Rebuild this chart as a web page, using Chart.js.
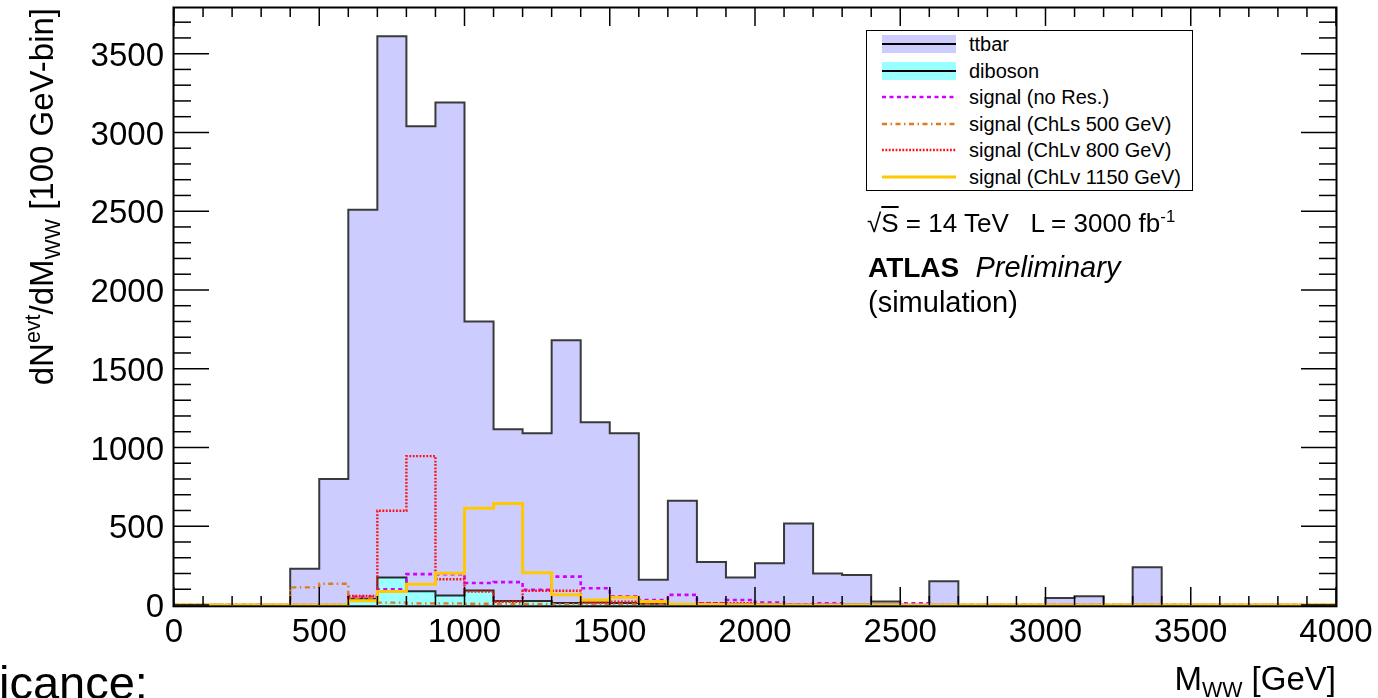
<!DOCTYPE html>
<html>
<head>
<meta charset="utf-8">
<script src="https://cdn.jsdelivr.net/npm/chart.js"></script>
<style>
html,body{margin:0;padding:0;background:#fff;overflow:hidden;}
#wrap{position:relative;width:1378px;height:698px;overflow:hidden;}
#c{position:absolute;left:0;top:0;}
.t{position:absolute;font-family:"Liberation Sans",Arial,sans-serif;color:#000;white-space:nowrap;line-height:1;}
.sub{font-size:65%;position:relative;top:0.32em;}
.sup{font-size:65%;position:relative;top:-0.6em;}
#leg{position:absolute;left:866px;top:30px;width:325px;height:159px;border:1.5px solid #000;background:#fff;}
</style>
</head>
<body>
<div id="wrap">
<canvas id="c" width="1378" height="698"></canvas>

<div class="t" id="ytitle" style="font-size:33px;left:25px;top:608px;width:600px;text-align:right;transform-origin:0 0;transform:rotate(-90deg);">dN<span class="sup">evt</span>/dM<span class="sub">WW</span> [100 GeV-bin]</div>
<div class="t" id="xtitle" style="font-size:33px;right:42px;top:662px;">M<span class="sub">WW</span> [GeV]</div>

<div id="leg"></div>

<div class="t" style="font-size:26px;left:867px;top:210px;">√<span style="text-decoration:overline;">S</span> = 14 TeV &nbsp; L = 3000 fb<span class="sup">-1</span></div>
<div class="t" style="font-size:29px;left:868px;top:253px;"><b style="font-size:28px;">ATLAS</b>&nbsp; <i>Preliminary</i></div>
<div class="t" style="font-size:29px;left:868px;top:288px;">(simulation)</div>

<div class="t" style="font-size:47px;left:-1px;top:659px;">icance:</div>
</div>

<script>
// ---------------- data ----------------
// lower bin edges in GeV (100 GeV bins) plus the final upper edge
const binEdges = [0,100,200,300,400,500,600,700,800,900,1000,1100,1200,1300,1400,1500,1600,1700,1800,1900,
                  2000,2100,2200,2300,2400,2500,2600,2700,2800,2900,3000,3100,3200,3300,3400,3500,3600,3700,3800,3900,4000];

const ttbar       = [0,0,0,0,230,800,2510,3610,3040,3190,1800,1115,1090,1680,1160,1090,160,662,273,175,
                     265,517,200,190,22,0,150,0,0,0,44,55,0,240,0,0,0,0,0,0];
const diboson     = [0,0,0,0,0,0,40,175,88,60,92,25,25,12,16,12,8,5,3,5,
                     3,2,2,1,1,0,0,0,0,0,0,0,0,0,0,0,0,0,0,0];
const sigNoRes    = [0,0,0,0,0,0,52,100,196,196,140,145,97,180,106,55,32,64,11,32,
                     15,4,11,0,0,11,0,0,0,0,0,0,0,0,0,0,0,0,0,0];
const sigChLs500  = [0,0,0,0,112,135,45,15,10,10,8,6,6,5,5,4,4,3,2,2,
                     1,1,1,0,0,0,0,0,0,0,0,0,0,0,0,0,0,0,0,0];
const sigChLv800  = [0,0,0,0,0,0,57,598,945,163,85,21,90,90,15,21,15,5,11,11,
                     5,2,2,0,0,0,0,0,0,0,0,0,0,0,0,0,0,0,0,0];
const sigChLv1150 = [0,0,0,0,0,0,27,85,131,201,615,645,205,65,32,49,23,5,3,2,
                     1,0,0,0,0,0,0,0,0,0,0,0,0,0,0,0,0,0,0,0];

const xTickLabels = [0,500,1000,1500,2000,2500,3000,3500,4000];
const yTickLabels = [0,500,1000,1500,2000,2500,3000,3500];
const seriesNames = ['ttbar','diboson','signal (no Res.)','signal (ChLs 500 GeV)','signal (ChLv 800 GeV)','signal (ChLv 1150 GeV)'];

const X_MIN = 0, X_MAX = 4000, Y_MIN = 0, Y_MAX = 3790;

// ---------------- styles ----------------
const styles = {
  'ttbar':                  {line:'#3a3a3a', width:2,   dash:[],              fill:'#ccccff'},
  'diboson':                {line:'#2a2a2a', width:2,   dash:[],              fill:'#99ffff'},
  'signal (no Res.)':       {line:'#d000ff', width:2.6, dash:[4,3.5],         fill:null},
  'signal (ChLs 500 GeV)':  {line:'#e07a1a', width:2.4, dash:[5,3.5,1.5,3.5], fill:null},
  'signal (ChLv 800 GeV)':  {line:'#ff1010', width:2.4, dash:[1.8,1.6],       fill:null},
  'signal (ChLv 1150 GeV)': {line:'#ffc800', width:3,   dash:[],              fill:null}
};
const seriesValues = [ttbar, diboson, sigNoRes, sigChLs500, sigChLv800, sigChLv1150];

function toSteps(vals){
  const pts = vals.map((v,i)=>({x:binEdges[i], y:v}));
  pts.push({x:binEdges[binEdges.length-1], y:vals[vals.length-1]});
  return pts;
}

// index 0 is drawn on top in Chart.js -> reverse the natural order
const datasets = seriesNames.map((name,i)=>{
  const s = styles[name];
  return {
    label:name,
    data:toSteps(seriesValues[i]),
    stepped:'before',
    borderColor:s.line,
    borderWidth:s.width,
    borderDash:s.dash,
    backgroundColor:s.fill || 'rgba(0,0,0,0)',
    fill:s.fill ? 'origin' : false,
    pointRadius:0,
    tension:0
  };
}).reverse();

const frame = {
  id:'frame',
  afterDatasetsDraw(chart){
    const {ctx, chartArea:a, scales:{x,y}} = chart;
    ctx.save();
    ctx.strokeStyle='#000';
    ctx.lineWidth=1.5;
    ctx.setLineDash([]);
    const seg=(x1,y1,x2,y2)=>{ctx.beginPath();ctx.moveTo(x1,y1);ctx.lineTo(x2,y2);ctx.stroke();};
    for(let v=X_MIN; v<=X_MAX; v+=100){
      const px=x.getPixelForValue(v);
      const L = xTickLabels.includes(v) ? 18 : 9;
      seg(px,a.bottom,px,a.bottom-L);
      seg(px,a.top,px,a.top+L);
    }
    for(let v=Y_MIN; v<=Y_MAX; v+=100){
      const py=y.getPixelForValue(v);
      const L = yTickLabels.includes(v) ? 35 : 17;
      seg(a.left,py,a.left+L,py);
      seg(a.right,py,a.right-L,py);
    }
    ctx.lineWidth=2;
    ctx.strokeRect(a.left-0.5, a.top-0.5, a.right-a.left+1, a.bottom-a.top+1.8);
    ctx.restore();
  }
};

const tickFont = {family:'"Liberation Sans", Arial, sans-serif', size:33};

new Chart(document.getElementById('c'), {
  type:'line',
  data:{datasets},
  options:{
    responsive:false,
    animation:false,
    devicePixelRatio:1,
    layout:{padding:{top:8,right:42,left:0,bottom:0}},
    plugins:{legend:{display:false}, tooltip:{enabled:false}},
    elements:{line:{borderCapStyle:'butt', borderJoinStyle:'miter'}},
    scales:{
      x:{
        type:'linear', min:X_MIN, max:X_MAX,
        afterFit(s){ s.height = 93; s.paddingLeft = 0; s.paddingRight = 0; },
        afterBuildTicks(s){ s.ticks = xTickLabels.map(v=>({value:v})); },
        grid:{display:false, drawTicks:false},
        border:{display:false},
        ticks:{padding:8, font:tickFont, color:'#000', maxRotation:0, autoSkip:false, includeBounds:false,
               callback:(v)=>String(v)}
      },
      y:{
        type:'linear', min:Y_MIN, max:Y_MAX,
        afterFit(s){ s.width = 174; s.paddingTop = 0; s.paddingBottom = 0; },
        afterBuildTicks(s){ s.ticks = yTickLabels.map(v=>({value:v})); },
        grid:{display:false, drawTicks:false},
        border:{display:false},
        ticks:{padding:10, labelOffset:3, font:tickFont, color:'#000', autoSkip:false, includeBounds:false,
               callback:(v)=>String(v)}
      }
    }
  },
  plugins:[frame]
});

// ---------------- legend (HTML) ----------------
const leg = document.getElementById('leg');
const rowCenters = [13, 40, 66, 92.5, 119, 145.5];
seriesNames.forEach((name,i)=>{
  const s = styles[name];
  const cy = rowCenters[i];
  const svgNS='http://www.w3.org/2000/svg';
  const svg=document.createElementNS(svgNS,'svg');
  svg.setAttribute('width','74'); svg.setAttribute('height','20');
  svg.style.position='absolute'; svg.style.left='15px'; svg.style.top=(cy-10)+'px';
  if(s.fill){
    const r=document.createElementNS(svgNS,'rect');
    r.setAttribute('x','0'); r.setAttribute('y','1'); r.setAttribute('width','74'); r.setAttribute('height','18');
    r.setAttribute('fill',s.fill); svg.appendChild(r);
  }
  const l=document.createElementNS(svgNS,'line');
  l.setAttribute('x1','0'); l.setAttribute('x2','74'); l.setAttribute('y1','10'); l.setAttribute('y2','10');
  l.setAttribute('stroke', s.fill ? '#000' : s.line);
  l.setAttribute('stroke-width', s.fill ? 2 : s.width);
  if(s.dash.length) l.setAttribute('stroke-dasharray', s.dash.join(' '));
  svg.appendChild(l);
  leg.appendChild(svg);
  const t=document.createElement('div');
  t.className='t'; t.style.fontSize='20px'; t.style.left='102px'; t.style.top=(cy-10)+'px';
  t.textContent=name;
  leg.appendChild(t);
});
</script>
</body>
</html>
